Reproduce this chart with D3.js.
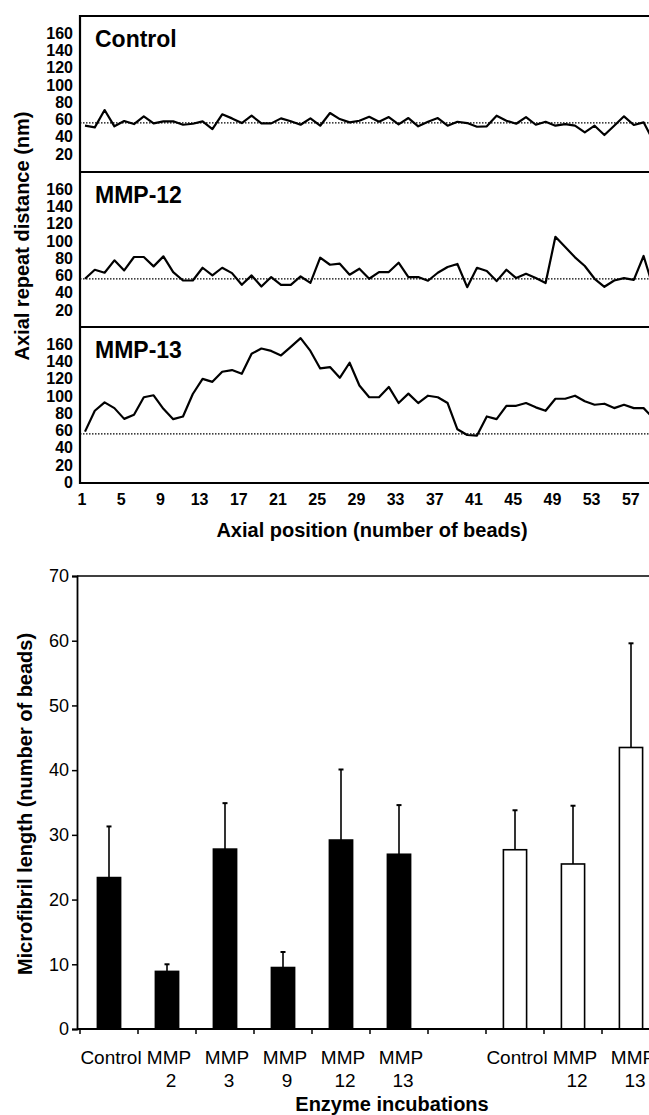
<!DOCTYPE html>
<html>
<head>
<meta charset="utf-8">
<script src="https://cdn.jsdelivr.net/npm/d3@7"></script>
<style>
  body { margin: 0; background: #fff; }
  svg { display: block; font-family: "Liberation Sans", Arial, sans-serif; }
</style>
</head>
<body>
<div id="canvas"></div>
<script>
"use strict"

/* ---- data: axial repeat distance (nm) for each bead, beads 1..59 ---- */
let panelNames = ["Control", "MMP-12", "MMP-13"];

let controlRepeat = [52.6, 50.7, 70.8, 51.9, 58.0, 54.5, 63.5, 55.3, 57.7, 57.7,
    53.7, 54.9, 57.7, 48.7, 65.8, 61.1, 55.7, 64.2, 55.3, 55.3,
    61.1, 57.7, 53.7, 61.1, 52.6, 67.3, 60.3, 56.5, 58.4, 63.0,
    57.2, 62.6, 54.2, 61.5, 51.9, 57.2, 61.5, 52.6, 57.2, 55.7,
    51.4, 51.9, 64.2, 58.4, 54.9, 62.6, 53.7, 57.2, 52.6, 54.5,
    52.6, 44.9, 52.6, 41.8, 52.6, 63.5, 53.4, 56.5, 35];

let mmp12Repeat = [56, 66.5, 63, 77.4, 65.7, 81.3, 81.3, 70.4, 82, 63.8,
    54, 54, 68.8, 59.9, 68.8, 62.6, 49, 59.9, 47, 58,
    49, 49, 58.7, 51.3, 80.5, 72.3, 73.5, 60.7, 67.7, 56,
    63.8, 63.8, 74.7, 58, 58, 53.7, 63, 69.7, 73.2, 46.3,
    68.8, 65, 53.3, 66.5, 56.8, 61.8, 56.8, 51, 104.7, 93,
    80.9, 70.8, 56, 46.7, 54, 56.8, 54.8, 82.5, 45];

let mmp13Repeat = [58.5, 82.7, 92.5, 85.8, 73.3, 78, 98.4, 100.7, 85, 73,
    76, 102.2, 119.8, 116.3, 128, 130, 125.6, 149, 155, 152.2,
    147, 157, 167, 152.2, 131.9, 133.5, 121, 138.5, 112, 98.4,
    98.4, 110.4, 91.7, 102.6, 91.7, 100.2, 98.4, 91.7, 61.2, 54.6,
    53.9, 76.1, 73, 88.5, 88.5, 91.7, 86.7, 82.7, 96.7, 96.7,
    100.2, 93.7, 89.7, 90.9, 85.8, 89.7, 85.8, 85.8, 74];

let referencePeriod = 56; /// dotted line
let yTicksUpper = [20, 40, 60, 80, 100, 120, 140, 160];
let yTicksLower = [0, 20, 40, 60, 80, 100, 120, 140, 160];
let beadTicks = [1, 5, 9, 13, 17, 21, 25, 29, 33, 37, 41, 45, 49, 53, 57];

/* ---- data: microfibril length (number of beads) ---- */
let barLine1 = ["Control", "MMP", "MMP", "MMP", "MMP", "MMP", "", "Control", "MMP", "MMP"];
let barLine2 = ["", "2", "3", "9", "12", "13", "", "", "12", "13"];
let barMeans = [23.4, 8.9, 27.8, 9.5, 29.2, 27.0, null, 27.7, 25.5, 43.5];
let barErrors = [7.9, 1.1, 7.1, 2.4, 10.9, 7.6, null, 6.1, 9.0, 16.1];
let barFills = ["black", "black", "black", "black", "black", "black", "none", "white", "white", "white"];
let lengthTicks = [0, 10, 20, 30, 40, 50, 60, 70];

let drawing = d3.select("#canvas")
    .append("svg")
    .attr("width", 649)
    .attr("height", 1115);

/* ================= top chart: three stacked panels ================= */
let plotLeft = 80, plotRight = 662;
let panelTops = [16, 172, 327];
let panelH = 155;

let x = d3.scaleLinear().domain([1, 57]).range([85, 633.8]);

let series = [controlRepeat, mmp12Repeat, mmp13Repeat];

series.forEach(function (values, p) {
    let top = panelTops[p];
    let y = d3.scaleLinear().domain([0, 180]).range([top + panelH, top]);

    // reference line
    drawing.append("line")
        .attr("x1", plotLeft).attr("x2", plotRight)
        .attr("y1", y(referencePeriod)).attr("y2", y(referencePeriod))
        .attr("stroke", "black")
        .attr("stroke-width", 1.2)
        .attr("stroke-dasharray", "1.5,1.5");

    let line = d3.line()
        .x((d, i) => x(i + 1))
        .y(d => y(d));

    drawing.append("path")
        .attr("d", line(values))
        .attr("fill", "none")
        .attr("stroke", "black")
        .attr("stroke-width", 2.2)
        .attr("stroke-linejoin", "round");

    // y tick labels
    let ticks = p == 2 ? yTicksLower : yTicksUpper;
    drawing.append("g")
        .selectAll("text")
        .data(ticks)
        .join("text")
        .attr("x", 73)
        .attr("y", d => y(d))
        .attr("dy", "0.36em")
        .attr("text-anchor", "end")
        .attr("font-size", 16)
        .attr("font-weight", "bold")
        .text(d => d);

    drawing.append("text")
        .attr("x", 95)
        .attr("y", top + 31)
        .attr("font-size", 23)
        .attr("font-weight", "bold")
        .text(panelNames[p]);
});

// frame lines between panels
[16, 172, 327, 483].forEach(function (yy) {
    drawing.append("line")
        .attr("x1", plotLeft).attr("x2", plotRight)
        .attr("y1", yy).attr("y2", yy)
        .attr("stroke", "black")
        .attr("stroke-width", 2.2);
});
drawing.append("line")
    .attr("x1", plotLeft).attr("x2", plotLeft)
    .attr("y1", 15).attr("y2", 484)
    .attr("stroke", "black")
    .attr("stroke-width", 2.2);

// x tick labels
drawing.append("g")
    .selectAll("text")
    .data(beadTicks)
    .join("text")
    .attr("x", d => x(d) - 3)
    .attr("y", 505)
    .attr("text-anchor", "middle")
    .attr("font-size", 16)
    .attr("font-weight", "bold")
    .text(d => d);

drawing.append("text")
    .attr("x", 372)
    .attr("y", 537)
    .attr("text-anchor", "middle")
    .attr("font-size", 20)
    .attr("font-weight", "bold")
    .text("Axial position (number of beads)");

drawing.append("text")
    .attr("transform", "translate(29,236) rotate(-90)")
    .attr("text-anchor", "middle")
    .attr("font-size", 20)
    .attr("font-weight", "bold")
    .text("Axial repeat distance (nm)");

/* ================= bottom chart: bar chart ================= */
let barLeft = 77;
let bx = d3.scaleBand()
    .domain(barMeans.map((d, i) => i))
    .range([80, 660])
    .padding(0);
let by = d3.scaleLinear().domain([0, 70]).range([1029, 576]);
let barW = bx.bandwidth() * 0.4;

// top border
drawing.append("line")
    .attr("x1", barLeft).attr("x2", 660)
    .attr("y1", by(70)).attr("y2", by(70))
    .attr("stroke", "black")
    .attr("stroke-width", 1.5);

let yAxis = d3.axisLeft(by).tickValues(lengthTicks).tickSize(5).tickPadding(3);
let yAxisG = drawing.append("g")
    .attr("transform", "translate(" + barLeft + ",0)")
    .call(yAxis);
yAxisG.select(".domain").attr("stroke-width", 1.8);
yAxisG.selectAll("line").attr("stroke-width", 1.5);
yAxisG.selectAll("text")
    .attr("font-size", 18)
    .attr("font-family", "Liberation Sans, Arial, sans-serif");

let barData = barMeans.map((m, i) => ({ i: i, mean: m, err: barErrors[i], fill: barFills[i] }))
    .filter(d => d.mean != null);

// error bars (upper only)
drawing.append("g")
    .selectAll("line")
    .data(barData)
    .join("line")
    .attr("x1", d => bx(d.i) + bx.bandwidth() / 2)
    .attr("x2", d => bx(d.i) + bx.bandwidth() / 2)
    .attr("y1", d => by(d.mean))
    .attr("y2", d => by(d.mean + d.err))
    .attr("stroke", "black")
    .attr("stroke-width", 1.6);

drawing.append("g")
    .selectAll("line")
    .data(barData)
    .join("line")
    .attr("x1", d => bx(d.i) + bx.bandwidth() / 2 - 2.5)
    .attr("x2", d => bx(d.i) + bx.bandwidth() / 2 + 2.5)
    .attr("y1", d => by(d.mean + d.err))
    .attr("y2", d => by(d.mean + d.err))
    .attr("stroke", "black")
    .attr("stroke-width", 2);

drawing.append("g")
    .selectAll("rect")
    .data(barData)
    .join("rect")
    .attr("x", d => bx(d.i) + (bx.bandwidth() - barW) / 2)
    .attr("y", d => by(d.mean))
    .attr("width", barW)
    .attr("height", d => by(0) - by(d.mean))
    .attr("fill", d => d.fill)
    .attr("stroke", "black")
    .attr("stroke-width", 1.6);

// x axis line and ticks at band boundaries
drawing.append("line")
    .attr("x1", barLeft).attr("x2", 660)
    .attr("y1", by(0)).attr("y2", by(0))
    .attr("stroke", "black")
    .attr("stroke-width", 1.8);

let boundaries = bx.domain().map(i => bx(i)).concat([bx(bx.domain().length - 1) + bx.bandwidth()]);
drawing.append("g")
    .selectAll("line")
    .data(boundaries)
    .join("line")
    .attr("x1", d => d).attr("x2", d => d)
    .attr("y1", by(0)).attr("y2", by(0) + 5)
    .attr("stroke", "black")
    .attr("stroke-width", 1.5);

let labelG = drawing.append("g")
    .attr("font-size", 19)
    .attr("text-anchor", "middle");

labelG.selectAll("text.l1")
    .data(barLine1)
    .join("text")
    .attr("class", "l1")
    .attr("x", (d, i) => bx(i) + bx.bandwidth() / 2 + 2)
    .attr("y", 1064)
    .text(d => d);

labelG.selectAll("text.l2")
    .data(barLine2)
    .join("text")
    .attr("class", "l2")
    .attr("x", (d, i) => bx(i) + bx.bandwidth() / 2 + 4)
    .attr("y", 1087)
    .text(d => d);

drawing.append("text")
    .attr("x", 392)
    .attr("y", 1111)
    .attr("text-anchor", "middle")
    .attr("font-size", 20)
    .attr("font-weight", "bold")
    .text("Enzyme incubations");

drawing.append("text")
    .attr("transform", "translate(32,804) rotate(-90)")
    .attr("text-anchor", "middle")
    .attr("font-size", 20)
    .attr("font-weight", "bold")
    .text("Microfibril length (number of beads)");
</script>
</body>
</html>
